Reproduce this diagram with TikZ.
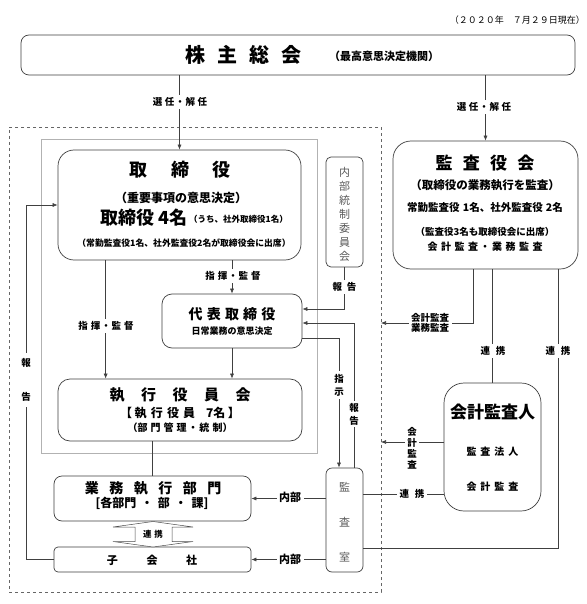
\documentclass[tikz,border=0pt]{standalone}
\usepackage{fontspec}
\setmainfont{Noto Sans CJK JP}
\usetikzlibrary{arrows.meta}
\newcommand\fsz[1]{\fontsize{#1}{#1}\selectfont}
\tikzset{
  bx/.style={draw=black!75, line width=0.7pt, inner sep=0pt, fill=white},
  ln/.style={draw=black!75, line width=0.6pt},
  ar/.style={ln, -{Latex[length=5pt,width=4pt]}},
  lb/.style={fill=white, inner sep=2.5pt, font=\bfseries\fsz{9.5}},
  tx/.style={inner sep=0pt, font=\bfseries\fsz{10}},
  vt/.style={inner sep=0pt, align=center, text=black!65},
}
\begin{document}
\begin{tikzpicture}[x=1pt,y=-1pt]
\useasboundingbox[fill=white] (0,0) rectangle (586,604);
% frames
\node[draw=black!60, dashed, line width=0.5pt, minimum width=372pt, minimum height=465pt, inner sep=0pt] (dash) at (195,359.5) {};
\node[draw=black!30, line width=0.6pt, minimum width=276pt, minimum height=314pt, inner sep=0pt] (gray) at (179,296) {};
% boxes
\node[bx, rounded corners=8pt, minimum width=554pt, minimum height=40pt] (kab) at (298,55) {};
\node[bx, rounded corners=16pt, minimum width=243pt, minimum height=110pt] (tori) at (179.5,205) {};
\node[bx, rounded corners=5pt, minimum width=37pt, minimum height=110pt] (naibu) at (344.5,212) {};
\node[bx, rounded corners=18pt, minimum width=185pt, minimum height=128pt] (kansa) at (485.5,205) {};
\node[bx, rounded corners=10pt, minimum width=140pt, minimum height=54pt] (dai) at (232,321) {};
\node[bx, rounded corners=12pt, minimum width=244pt, minimum height=62pt] (shikko) at (180,410) {};
\node[bx, rounded corners=20pt, minimum width=97pt, minimum height=128pt] (kaikei) at (492.5,447) {};
\node[bx, rounded corners=8pt, minimum width=197pt, minimum height=45pt] (gyomu) at (152.5,498.5) {};
\node[bx, rounded corners=4pt, minimum width=197pt, minimum height=25pt] (ko) at (152.5,559.5) {};
\node[bx, rounded corners=6pt, minimum width=37pt, minimum height=104pt] (ks) at (344.5,520) {};
% helper coordinates
\coordinate (hl) at (26,205);
\coordinate (p1) at (381,323);
\coordinate (p2) at (381,442);
\coordinate (p3) at ([yshift=26pt]ks.east);
% connectors
\draw[ar] (tori.north |- kab.south) -- (tori.north);
\draw[ar] (kansa.north |- kab.south) -- (kansa.north);
\draw[ar] (dai.north |- tori.south) -- (dai.north);
\draw[ar] ([xshift=48pt]tori.south west) -- ([xshift=48pt]tori.south west |- shikko.north);
\draw[ar] (dai.south) -- (dai.south |- shikko.north);
\draw[ln] (gyomu.north |- shikko.south) -- (gyomu.north);
\draw[ar] (naibu.south) |- ([yshift=12pt]dai.east);
\draw[ar] ([xshift=9.5pt]ks.north) |- ([yshift=-2pt]dai.east);
\draw[ar] ([yshift=-17pt]dai.east) -| ([xshift=-5.5pt]ks.north);
\draw[ar] (ko.west) -| (hl) -- (tori.west);
\draw[ar] ([xshift=-12.5pt]kansa.south) |- (p1);
\draw[ln] (kaikei.north |- kansa.south) -- (kaikei.north);
\draw[ln] ([xshift=72.5pt]kansa.south) |- ([yshift=-28pt]ks.east);
\draw[ar] (kaikei.west |- p2) -- (p2);
\draw[ln] (p3) -- (p3 -| kaikei.west);
\draw[ar] (gyomu.east -| ks.west) -- (gyomu.east);
\draw[ar] (ko.east -| ks.west) -- (ko.east);
% double block arrow
\draw[draw=black!70, line width=0.5pt, fill=white] (153,521.5) -- (113,527) -- (135,527) -- (135,541.5) -- (113,541.5) -- (153,547) -- (193,541.5) -- (172,541.5) -- (172,527) -- (193,527) -- cycle;
\node[tx, font=\bfseries\fsz{8.5}] (renkei0) at (153,534.5) {連\hspace{0.3em}携};
% labels on connectors
\node[lb] (l1) at (180,102) {選\hspace{0.25em}任\hspace{0.1em}・\hspace{0.1em}解\hspace{0.25em}任};
\node[lb] (l2) at (484,107) {選\hspace{0.25em}任\hspace{0.1em}・\hspace{0.1em}解\hspace{0.25em}任};
\node[lb] (l3) at (233,276) {指\hspace{0.3em}揮\hspace{0.1em}・\hspace{0.1em}監\hspace{0.3em}督};
\node[lb] (l4) at (106,326) {指\hspace{0.3em}揮\hspace{0.1em}・\hspace{0.1em}監\hspace{0.3em}督};
\node[lb] (l5) at (344.5,287) {報\hspace{0.5em}告};
\node[lb, align=center, font=\bfseries\fontsize{9.5}{9}\selectfont] (l6) at (430,323) {会計監査\\業務監査};
\node[lb] (l7) at (493,351) {連\hspace{0.6em}携};
\node[lb] (l8) at (558,351) {連\hspace{0.6em}携};
\node[lb, align=center, font=\bfseries\fontsize{9.5}{13}\selectfont] (l9) at (339,385) {指\\示};
\node[lb, align=center, font=\bfseries\fontsize{9.5}{13}\selectfont] (l10) at (354,414) {報\\告};
\node[lb, align=center, font=\bfseries\fontsize{9.5}{11}\selectfont] (l11) at (412,448) {会\\計\\監\\査};
\node[lb] (l12) at (412,494) {連\hspace{0.6em}携};
\node[lb, font=\bfseries\fsz{11}] (l13) at (290,497) {内部};
\node[lb, font=\bfseries\fsz{11}] (l14) at (290,559.5) {内部};
\node[lb, align=center, inner ysep=6pt, font=\bfseries\fontsize{9.5}{34}\selectfont] (l15) at (26,380) {報\\告};
% texts
\node[inner sep=0pt, anchor=east, font=\fsz{9}] (date) at (585,20) {（２０２０年　７月２９日現在）};
\node[tx, font=\bfseries\fsz{20}] (t1) at (243,55) {株\hspace{0.6em}主\hspace{0.6em}総\hspace{0.6em}会};
\node[tx, font=\bfseries\fsz{11}] (t2) at (384,56) {（最高意思決定機関）};
\node[tx, font=\bfseries\fsz{18}] (t3) at (180,170) {取\hspace{1.3em}締\hspace{1.3em}役};
\node[tx, font=\bfseries\fsz{12}] (t4) at (181,198) {（重要事項の意思決定）};
\node[tx, font=\bfseries\fsz{18}, anchor=east] (t5) at (188,218) {取締役\hspace{0.25em}4名};
\node[tx, font=\bfseries\fsz{8.5}, anchor=west] (t6) at (189,219) {（うち、社外取締役1名）};
\node[tx, font=\bfseries\fsz{8.8}] (t7) at (184,243) {（常勤監査役1名、社外監査役2名が取締役会に出席）};
\node[vt, font=\fontsize{11}{14}\selectfont] (t8) at (344.5,214) {内\\部\\統\\制\\委\\員\\会};
\node[tx, font=\bfseries\fsz{17}] (t9) at (485,163) {監\hspace{0.6em}査\hspace{0.6em}役\hspace{0.6em}会};
\node[tx, font=\bfseries\fsz{11.5}] (t10) at (485,185) {（取締役の業務執行を監査）};
\node[tx, font=\bfseries\fsz{10.5}] (t11) at (485,207) {常勤監査役\hspace{0.3em}1名、社外監査役\hspace{0.3em}2名};
\node[tx, font=\bfseries\fsz{9.5}] (t12) at (485,232) {（監査役3名も取締役会に出席）};
\node[tx, font=\bfseries\fsz{10}] (t13) at (485,247) {会\hspace{0.35em}計\hspace{0.35em}監\hspace{0.35em}査\hspace{0.2em}・\hspace{0.2em}業\hspace{0.35em}務\hspace{0.35em}監\hspace{0.35em}査};
\node[tx, font=\bfseries\fsz{14}] (t14) at (232,314) {代\hspace{0.3em}表\hspace{0.3em}取\hspace{0.3em}締\hspace{0.3em}役};
\node[tx, font=\bfseries\fsz{9}] (t15) at (232,331) {日常業務の意思決定};
\node[tx, font=\bfseries\fsz{15}] (t16) at (180,395) {執\hspace{1.1em}行\hspace{1.1em}役\hspace{1.1em}員\hspace{1.1em}会};
\node[tx, font=\bfseries\fsz{12}] (t17) at (180,413) {【\hspace{0.2em}執\hspace{0.35em}行\hspace{0.35em}役\hspace{0.35em}員\hspace{0.9em}7名\hspace{0.2em}】};
\node[tx, font=\bfseries\fsz{10}] (t18) at (180,428) {（部\hspace{0.3em}門\hspace{0.3em}管\hspace{0.3em}理\hspace{0.15em}・\hspace{0.15em}統\hspace{0.3em}制）};
\node[tx, font=\bfseries\fsz{17}] (t19) at (492.5,412) {会計監査人};
\node[tx, font=\bfseries\fsz{10}] (t20) at (492.5,452) {監\hspace{0.4em}査\hspace{0.4em}法\hspace{0.4em}人};
\node[tx, font=\bfseries\fsz{10}] (t21) at (492.5,487) {会\hspace{0.4em}計\hspace{0.4em}監\hspace{0.4em}査};
\node[tx, font=\bfseries\fsz{14}] (t22) at (153,488) {業\hspace{0.75em}務\hspace{0.75em}執\hspace{0.75em}行\hspace{0.75em}部\hspace{0.75em}門};
\node[tx, font=\bfseries\fsz{12}] (t23) at (152,503) {[各部門\hspace{0.4em}・\hspace{0.4em}部\hspace{0.4em}・\hspace{0.4em}課]};
\node[tx, font=\bfseries\fsz{11}] (t24) at (152,560) {子\hspace{2.6em}会\hspace{2.6em}社};
\node[vt, font=\fontsize{11}{35}\selectfont] (t25) at (344.5,522) {監\\査\\室};
\end{tikzpicture}
\end{document}
